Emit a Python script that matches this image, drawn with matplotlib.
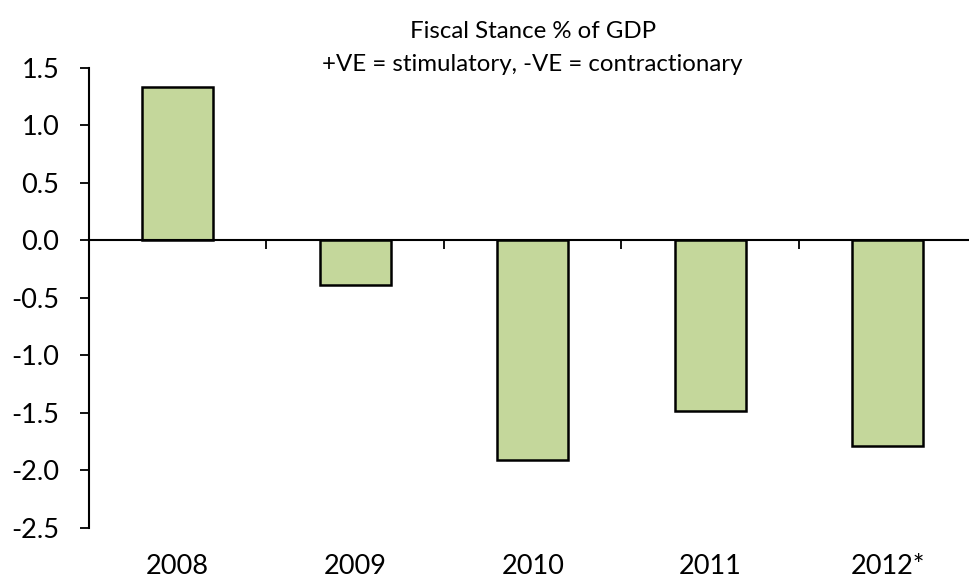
import matplotlib
matplotlib.use("Agg")
import matplotlib.pyplot as plt
import matplotlib.transforms as mtransforms
import numpy as np

categories = ["2008", "2009", "2010", "2011", "2012*"]
values = [1.33, -0.39, -1.91, -1.485, -1.79]
yticks = [-2.5, -2.0, -1.5, -1.0, -0.5, 0.0, 0.5, 1.0, 1.5]
title_lines = ["Fiscal Stance % of GDP", "+VE = stimulatory, -VE = contractionary"]

plt.rcParams['font.family'] = ['Lato', 'DejaVu Sans']

fig = plt.figure(figsize=(9.69, 5.78), dpi=100)
ax = fig.add_axes([0.0918, 0.0865, 0.9159, 0.7964])

x = np.arange(len(categories))
ax.bar(x, values, width=0.4, color="#C4D79B", edgecolor="black", linewidth=1.8, zorder=3)

ax.set_xlim(-0.5, len(categories) - 0.5)
ax.set_ylim(-2.5, 1.5)
ax.set_yticks(yticks)
ax.set_yticklabels([f"{v:.1f}" for v in yticks], fontsize=19.5)
ax.tick_params(axis='y', length=6.3, width=1.3, pad=15, direction='out')

ax.spines['top'].set_visible(False)
ax.spines['right'].set_visible(False)
ax.spines['left'].set_linewidth(1.5)
ax.spines['bottom'].set_position(('data', 0))
ax.spines['bottom'].set_linewidth(1.5)
ax.spines['bottom'].set_zorder(4)

bounds = np.arange(len(categories) + 1) - 0.5
ax.set_xticks(bounds[1:])
ax.set_xticklabels([])
ax.tick_params(axis='x', length=6.5, width=1.3, direction='out')

trans = mtransforms.blended_transform_factory(ax.transData, ax.transAxes)
for xi, lab in zip(x, categories):
    ax.text(xi, -0.0847, lab, transform=trans, ha='center', va='center', fontsize=19.5)

ax.text(0.5, (528 - 32) / 460.3, title_lines[0], transform=ax.transAxes,
        ha='center', va='center', fontsize=17.3)
ax.text(0.5, (528 - 65) / 460.3, title_lines[1], transform=ax.transAxes,
        ha='center', va='center', fontsize=17.3)

fig.savefig("out.png", dpi=100)
